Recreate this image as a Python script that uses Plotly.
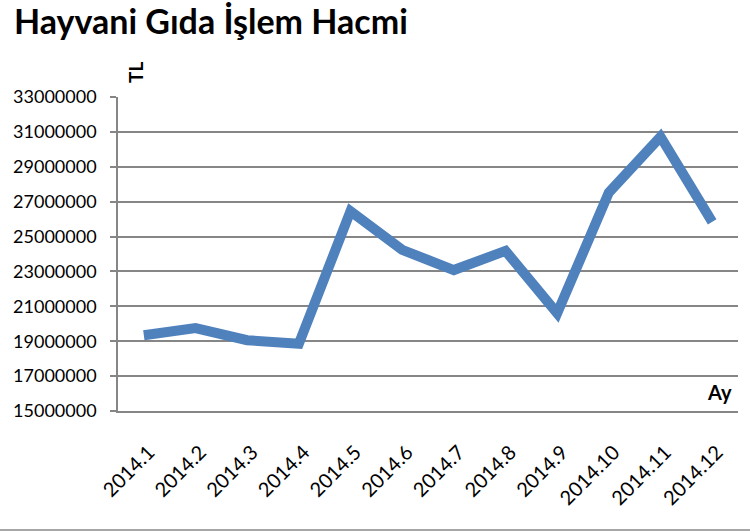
import plotly.graph_objects as go

# Monthly trading volume of animal food products (TL)
months = ["2014.1", "2014.2", "2014.3", "2014.4", "2014.5", "2014.6",
          "2014.7", "2014.8", "2014.9", "2014.10", "2014.11", "2014.12"]
volume_tl = [19340000, 19750000, 19060000, 18850000, 26450000, 24240000,
             23080000, 24180000, 20600000, 27520000, 30720000, 25840000]
y_ticks = list(range(15000000, 33000001, 2000000))

grid = "#868686"
font = "Lato"

# plot area in pixels
L, R, T, B = 118, 12, 97, 120
PW, PH = 750 - L - R, 531 - T - B

fig = go.Figure(go.Scatter(
    x=months, y=volume_tl, mode="lines",
    line=dict(color="#4F81BD", width=10),
    hoverinfo="x+y",
))

fig.update_layout(
    width=750, height=531,
    margin=dict(l=L, r=R, t=T, b=B),
    paper_bgcolor="white", plot_bgcolor="white",
    showlegend=False,
    font=dict(family=font, color="black"),
    title=dict(text="<b>Hayvani Gıda İşlem Hacmi</b>",
               x=14 / 750, xanchor="left", xref="container",
               y=1 - 10 / 531, yanchor="top", yref="container",
               font=dict(size=34, family=font, color="black")),
    xaxis=dict(
        type="category", range=[-0.5, 11.5],
        showline=True, linecolor=grid, linewidth=1.5,
        showgrid=False, ticks="",
        tickangle=-45, tickfont=dict(size=20, family=font, color="black"),
        ticklabelstandoff=20, ticklabelshift=5,
    ),
    yaxis=dict(
        range=[15000000, 33000000], tickvals=y_ticks,
        ticktext=[str(v) for v in y_ticks],
        showline=True, linecolor=grid, linewidth=1.5,
        showgrid=True, gridcolor=grid, gridwidth=1.5,
        zeroline=False,
        ticks="outside", ticklen=6, tickcolor=grid, tickwidth=1.5,
        tickfont=dict(size=18, family=font, color="black"),
        ticklabelstandoff=10,
    ),
    annotations=[
        # axis names: "TL" above the value axis, "Ay" at the right end of the category axis
        dict(text="<b>TL</b>", xref="paper", yref="paper",
             x=(135 - L) / PW, y=1 + (T - 73) / PH,
             xanchor="center", yanchor="middle",
             showarrow=False, textangle=-90,
             font=dict(size=19, family=font, color="black")),
        dict(text="<b>Ay</b>", x=1, y=0, xref="paper", yref="paper",
             xanchor="right", yanchor="bottom", xshift=-4, yshift=5,
             showarrow=False, font=dict(size=20, family=font, color="black")),
    ],
    shapes=[
        dict(type="line", xref="paper", yref="paper",
             x0=-L / PW, x1=1 + R / PW, y0=-(B - 1) / PH, y1=-(B - 1) / PH,
             line=dict(color="#A6A6A6", width=2)),
    ],
)

fig.write_html("out.html")
